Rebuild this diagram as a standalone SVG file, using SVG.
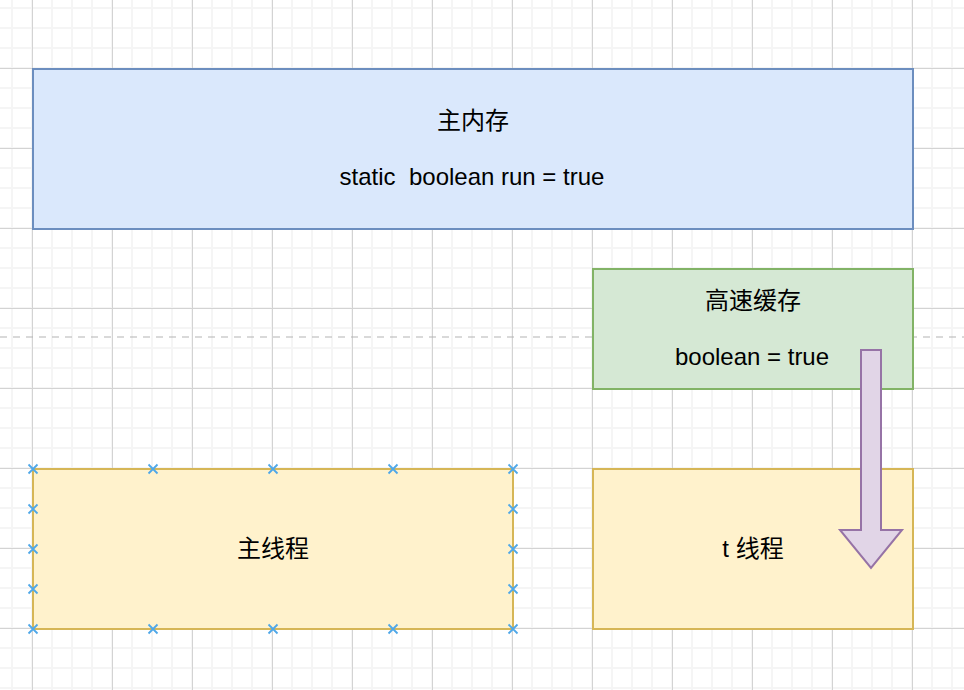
<svg xmlns="http://www.w3.org/2000/svg" width="964" height="690" viewBox="0 0 964 690">
  <defs>
    <pattern id="minor" patternUnits="userSpaceOnUse" x="11" y="7" width="20" height="20">
      <rect x="0" y="0" width="2" height="20" fill="#f5f5f5"/>
      <rect x="0" y="0" width="20" height="2" fill="#f5f5f5"/>
    </pattern>
    <pattern id="major" patternUnits="userSpaceOnUse" x="32" y="68" width="80" height="80">
      <rect x="0" y="0" width="1" height="80" fill="#d3d3d3"/>
      <rect x="0" y="0" width="80" height="1" fill="#d3d3d3"/>
    </pattern>
    <g id="xm">
      <path d="M-4.5,-4.5 L4.5,4.5 M-4.5,4.5 L4.5,-4.5" stroke="#4fa8e8" stroke-width="1.8" fill="none"/>
    </g>
  </defs>
  <style>
    text { font-family: "Liberation Sans", "Noto Sans CJK SC", sans-serif; font-size: 24px; fill: #000; text-anchor: middle; white-space: pre; }
    .blue { fill: #dae8fc; stroke: #6c8ebf; stroke-width: 2; }
    .green { fill: #d5e8d4; stroke: #82b366; stroke-width: 2; }
    .yellow { fill: #fff2cc; stroke: #d6b656; stroke-width: 2; }
  </style>
  <rect width="964" height="690" fill="#ffffff"/>
  <rect width="964" height="690" fill="url(#minor)"/>
  <rect width="964" height="690" fill="url(#major)"/>
  <line x1="0" y1="337" x2="964" y2="337" stroke="#b3b3b3" stroke-width="1.2" stroke-dasharray="7 6"/>

  <g id="main-memory">
    <rect class="blue" x="33" y="69" width="880" height="160"/>
    <text x="473" y="129">主内存</text>
    <text x="472" y="185" xml:space="preserve">static  boolean run = true</text>
  </g>

  <g id="cache">
    <rect class="green" x="593" y="269" width="320" height="120"/>
    <text x="753" y="309">高速缓存</text>
    <text x="752" y="365">boolean = true</text>
  </g>

  <g id="main-thread">
    <rect class="yellow" x="33" y="469" width="480" height="160"/>
    <text x="273" y="557">主线程</text>
    <g>
      <use href="#xm" x="33" y="469"/>
      <use href="#xm" x="153" y="469"/>
      <use href="#xm" x="273" y="469"/>
      <use href="#xm" x="393" y="469"/>
      <use href="#xm" x="513" y="469"/>
      <use href="#xm" x="33" y="629"/>
      <use href="#xm" x="153" y="629"/>
      <use href="#xm" x="273" y="629"/>
      <use href="#xm" x="393" y="629"/>
      <use href="#xm" x="513" y="629"/>
      <use href="#xm" x="33" y="509"/>
      <use href="#xm" x="33" y="549"/>
      <use href="#xm" x="33" y="589"/>
      <use href="#xm" x="513" y="509"/>
      <use href="#xm" x="513" y="549"/>
      <use href="#xm" x="513" y="589"/>
    </g>
  </g>

  <g id="t-thread">
    <rect class="yellow" x="593" y="469" width="320" height="160"/>
    <text x="753" y="557">t 线程</text>
  </g>

  <g id="connectors">
    <polygon points="861,350 881,350 881,530 902,530 871,568 840,530 861,530" fill="#e1d5e7" stroke="#9673a6" stroke-width="2" stroke-linejoin="miter"/>
  </g>
</svg>
